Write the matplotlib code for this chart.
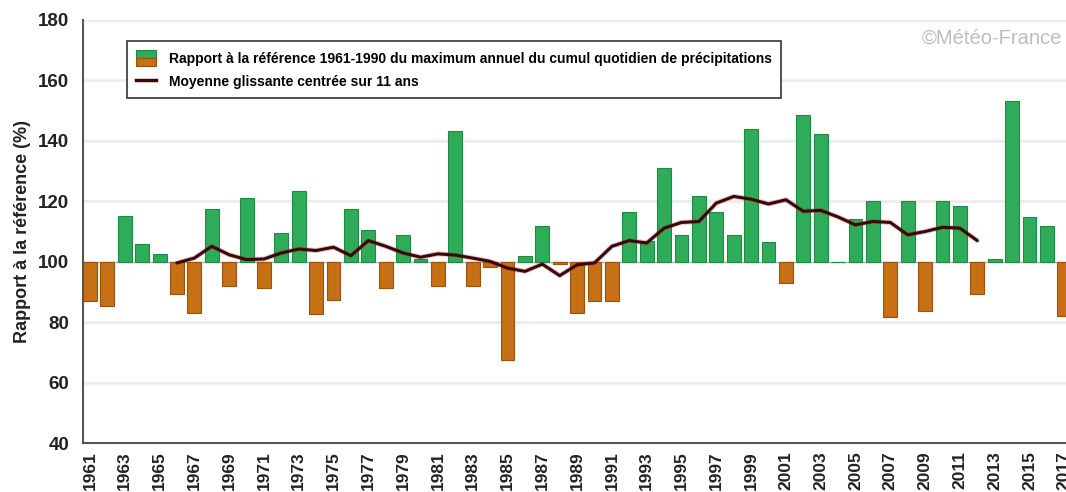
import matplotlib
matplotlib.use("Agg")
import matplotlib.pyplot as plt
from matplotlib.patches import Rectangle
from matplotlib.lines import Line2D
from matplotlib.legend_handler import HandlerBase

plt.rcParams['font.family'] = ['Liberation Sans', 'DejaVu Sans']

# données
annees = list(range(1961, 2018))
rapport = [87, 85.5, 115, 106, 102.4, 89.4, 83, 117.6, 91.8, 121.2,
           91.2, 109.5, 123.4, 82.6, 87.2, 117.6, 110.6, 91.2, 108.9, 101,
           91.8, 143.3, 91.8, 98.2, 67.4, 102, 111.7, 99.3, 83, 87.1,
           87.1, 116.4, 106.7, 131, 108.9, 121.6, 116.4, 109, 143.8, 106.5,
           93, 148.6, 142.2, 100, 114.1, 120, 81.7, 120, 83.6, 120,
           118.3, 89.4, 100.8, 153.3, 114.8, 111.9, 81.9]

annees_moy = list(range(1966, 2013))
moyenne = [99.6, 101.2, 105.1, 102.3, 100.7, 100.9, 102.9, 104.2, 103.7, 104.8,
           102, 107, 105.1, 102.9, 101.5, 102.6, 102.2, 101.2, 100.1, 97.9,
           96.8, 99.2, 95.4, 99, 99.6, 105.1, 107, 106.2, 111.1, 113,
           113.3, 119.4, 121.6, 120.7, 119.1, 120.5, 116.7, 117, 114.8, 112.2,
           113.3, 113, 108.9, 110, 111.4, 111.1, 107]

ticks_x = list(range(1961, 2018, 2))
ticks_y = [40, 60, 80, 100, 120, 140, 160, 180]

VERT, VERT_BORD = '#2eac5a', '#1f8a44'
ORANGE, ORANGE_BORD = '#c66f14', '#9a520c'


class HandlerDeuxCouleurs(HandlerBase):
    def create_artists(self, legend, orig_handle, xdescent, ydescent,
                       width, height, fontsize, trans):
        haut = Rectangle((-xdescent, -ydescent + height / 2), width, height / 2,
                         fc=VERT, ec=VERT_BORD, lw=0.8, transform=trans)
        bas = Rectangle((-xdescent, -ydescent), width, height / 2,
                        fc=ORANGE, ec=ORANGE_BORD, lw=0.8, transform=trans)
        return [haut, bas]


fig = plt.figure(figsize=(10.66, 4.92), dpi=100)
ax = fig.add_axes([83 / 1066, 1 - 443 / 492, 1 - 83 / 1066, 423 / 492])

bas_barres = [min(v, 100) for v in rapport]
hauteurs = [abs(v - 100) for v in rapport]
couleurs = [VERT if v >= 100 else ORANGE for v in rapport]
bords = [VERT_BORD if v >= 100 else ORANGE_BORD for v in rapport]
ax.bar(annees, hauteurs, bottom=bas_barres, width=0.8, color=couleurs,
       edgecolor=bords, linewidth=0.8, zorder=2)
ax.axhline(100, color='#b8b8b8', lw=0.8, zorder=1.5)

ax.plot(annees_moy, moyenne, color='#b03030', lw=3.6, alpha=0.3, zorder=3,
        solid_capstyle='round')
ax.plot(annees_moy, moyenne, color='#3a0808', lw=2.2, zorder=4,
        solid_capstyle='round')

ax.set_xlim(1960.6, 2017.1)
ax.set_ylim(40, 180)
ax.set_yticks(ticks_y)
ax.set_xticks(ticks_x)
ax.set_xticklabels([str(a) for a in ticks_x], rotation=90, fontsize=12.5,
                   fontweight='bold', color='#222222')
ax.set_yticklabels([str(v) for v in ticks_y], fontsize=13.5, fontweight='bold',
                   color='#222222')
ax.tick_params(length=0)
ax.tick_params(axis='y', pad=10)
ax.tick_params(axis='x', pad=6)
ax.grid(axis='y', color='#ececec', lw=2, zorder=0)
ax.set_axisbelow(True)
for s in ['top', 'right']:
    ax.spines[s].set_visible(False)
for s in ['left', 'bottom']:
    ax.spines[s].set_color('#555555')
    ax.spines[s].set_linewidth(1.5)

ax.set_ylabel('Rapport à la référence (%)', fontsize=13, fontweight='bold',
              color='#222222', labelpad=5)

poignee_barres = Rectangle((0, 0), 1, 1)
poignee_ligne = Line2D([], [], color='#3a0808', lw=2.5)
leg = ax.legend([poignee_barres, poignee_ligne],
                ['Rapport à la référence 1961-1990 du maximum annuel du cumul quotidien de précipitations',
                 'Moyenne glissante centrée sur 11 ans'],
                handler_map={Rectangle: HandlerDeuxCouleurs()},
                loc='upper left', bbox_to_anchor=(0.0448, 0.950), borderaxespad=0,
                fancybox=False, edgecolor='#333333', framealpha=1,
                prop={'size': 10, 'weight': 'bold'},
                handlelength=1.45, handleheight=1.35, labelspacing=0.55,
                borderpad=0.65, handletextpad=0.9)
leg.get_frame().set_linewidth(1.2)

fig.text(1062 / 1066, 1 - 38 / 492, '©Météo-France', ha='right', va='center',
         fontsize=14.5, color='#bdbdbd')

fig.savefig('out.png', dpi=100)
